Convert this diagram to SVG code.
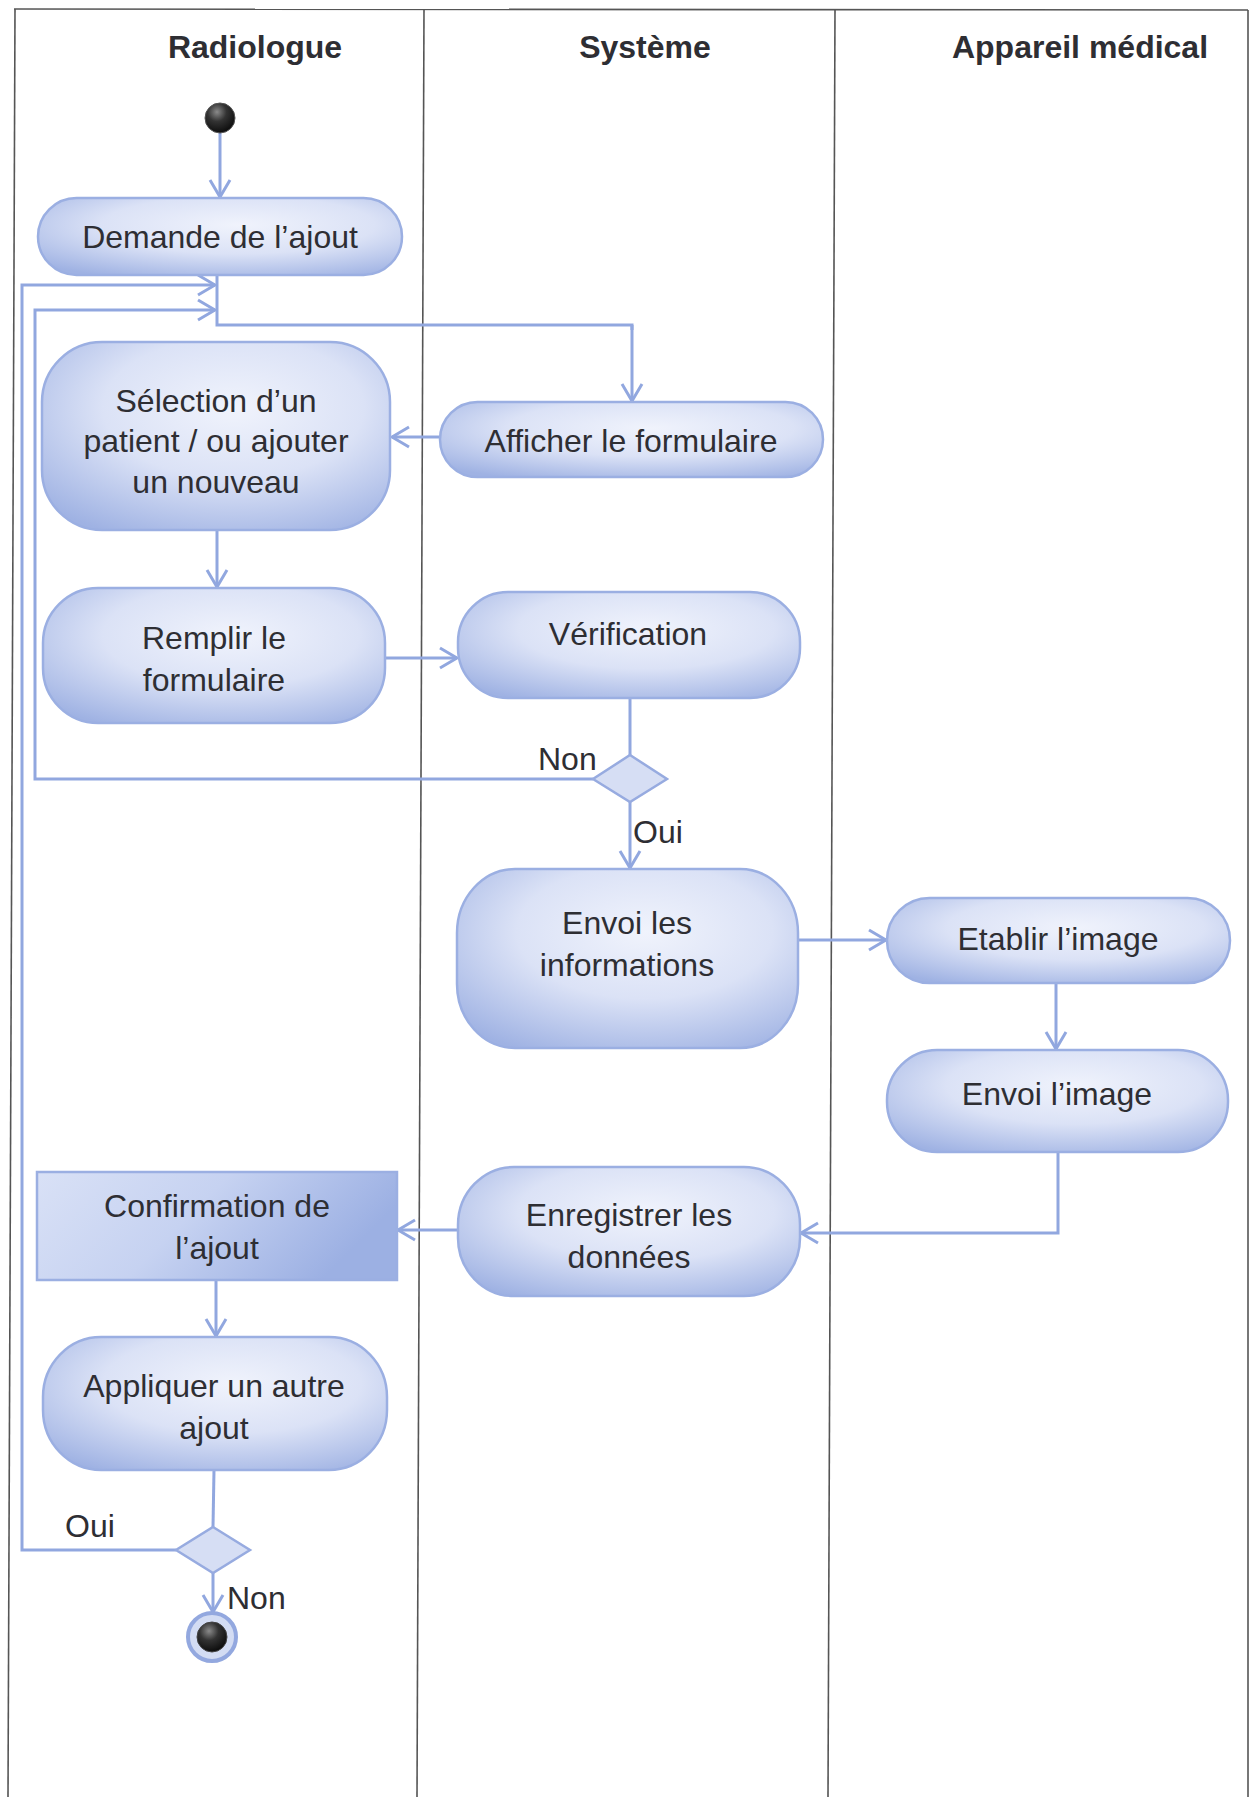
<svg xmlns="http://www.w3.org/2000/svg" width="1250" height="1797" viewBox="0 0 1250 1797">
  <style>
    .lane { fill: none; stroke: #555; stroke-width: 1.6; }
    .title { font-family: "Liberation Sans", Arial, sans-serif; font-size: 32px; font-weight: bold; fill: #2e2e33; text-anchor: middle; }
    .lbl { font-family: "Liberation Sans", Arial, sans-serif; font-size: 32px; fill: #2e2e33; text-anchor: middle; }
    .guard { font-family: "Liberation Sans", Arial, sans-serif; font-size: 32px; fill: #2e2e33; }
    .act { fill: url(#actFill); stroke: #9bafe2; stroke-width: 2.5; }
    .box { fill: url(#boxFill); stroke: #9bafe2; stroke-width: 2.5; }
    .dec { fill: #d6def4; stroke: #97abe0; stroke-width: 2.5; }
    .flow { fill: none; stroke: #91a7df; stroke-width: 3; }
    .arr { marker-end: url(#head); }
  </style>
  <defs>
    <radialGradient id="actFill" cx="0.55" cy="0.35" r="0.75">
      <stop offset="0" stop-color="#f0f3fc"/>
      <stop offset="0.5" stop-color="#dbe2f6"/>
      <stop offset="1" stop-color="#9fb2e3"/>
    </radialGradient>
    <linearGradient id="boxFill" x1="0" y1="0" x2="1" y2="0.3">
      <stop offset="0" stop-color="#d9e1f6"/>
      <stop offset="0.5" stop-color="#c6d2f1"/>
      <stop offset="1" stop-color="#9cb0e3"/>
    </linearGradient>
    <radialGradient id="ball" cx="0.4" cy="0.3" r="0.7">
      <stop offset="0" stop-color="#8a8a8a"/>
      <stop offset="0.45" stop-color="#333"/>
      <stop offset="1" stop-color="#0d0d0d"/>
    </radialGradient>
    <marker id="head" markerUnits="userSpaceOnUse" markerWidth="22" markerHeight="24" viewBox="0 0 22 24" refX="20" refY="12" orient="auto">
      <path d="M3,2 L20,12 L3,22" fill="none" stroke="#91a7df" stroke-width="3"/>
    </marker>
  </defs>

  <rect width="1250" height="1797" fill="#ffffff"/>

  <!-- swimlane frame -->
  <g id="lanes">
    <line class="lane" x1="14" y1="9" x2="1248" y2="10"/>
    <line class="lane" x1="15" y1="9" x2="8" y2="1797"/>
    <line class="lane" x1="424" y1="9" x2="417" y2="1797"/>
    <line class="lane" x1="835" y1="10" x2="828" y2="1797"/>
    <line class="lane" x1="1248" y1="10" x2="1248" y2="1797"/>
    <text class="title" x="255" y="58">Radiologue</text>
    <text class="title" x="645" y="58">Système</text>
    <text class="title" x="1080" y="58">Appareil médical</text>
  </g>

  <!-- control flows -->
  <g id="connectors">
    <line class="flow arr" x1="220" y1="133" x2="220" y2="197"/>
    <polyline class="flow" points="217,275 217,325 632,325 632,330"/>
    <line class="flow arr" x1="632" y1="325" x2="632" y2="401"/>
    <line class="flow arr" x1="440" y1="437" x2="392" y2="437"/>
    <line class="flow arr" x1="217" y1="530" x2="217" y2="587"/>
    <line class="flow arr" x1="385" y1="658" x2="457" y2="658"/>
    <line class="flow" x1="630" y1="698" x2="630" y2="755"/>
    <polyline class="flow arr" points="593,779 35,779 35,310 215,310"/>
    <line class="flow arr" x1="630" y1="802" x2="630" y2="868"/>
    <line class="flow arr" x1="798" y1="940" x2="886" y2="940"/>
    <line class="flow arr" x1="1056" y1="983" x2="1056" y2="1049"/>
    <polyline class="flow arr" points="1058,1152 1058,1233 801,1233"/>
    <line class="flow arr" x1="458" y1="1230" x2="398" y2="1230"/>
    <line class="flow arr" x1="216" y1="1280" x2="216" y2="1336"/>
    <line class="flow" x1="214" y1="1470" x2="213" y2="1527"/>
    <polyline class="flow arr" points="176,1550 22,1550 22,285 215,285"/>
    <line class="flow arr" x1="213" y1="1573" x2="213" y2="1612"/>
    <text class="guard" x="538" y="770">Non</text>
    <text class="guard" x="633" y="843">Oui</text>
    <text class="guard" x="65" y="1537">Oui</text>
    <text class="guard" x="227" y="1609">Non</text>
  </g>

  <g id="start">
    <circle cx="220" cy="118" r="15" fill="url(#ball)" stroke="#555" stroke-width="1"/>
  </g>

  <g id="demande">
    <rect class="act" x="38" y="198" width="364" height="77" rx="38.5" ry="38.5"/>
    <text class="lbl" x="220" y="248">Demande de l’ajout</text>
  </g>

  <g id="selection">
    <rect class="act" x="42" y="342" width="348" height="188" rx="60" ry="60"/>
    <text class="lbl" x="216" y="412">Sélection d’un</text>
    <text class="lbl" x="216" y="452">patient / ou ajouter</text>
    <text class="lbl" x="216" y="493">un nouveau</text>
  </g>

  <g id="afficher">
    <rect class="act" x="440" y="402" width="383" height="75" rx="37.5" ry="37.5"/>
    <text class="lbl" x="631" y="452">Afficher le formulaire</text>
  </g>

  <g id="remplir">
    <rect class="act" x="43" y="588" width="342" height="135" rx="55" ry="55"/>
    <text class="lbl" x="214" y="649">Remplir le</text>
    <text class="lbl" x="214" y="691">formulaire</text>
  </g>

  <g id="verification">
    <rect class="act" x="458" y="592" width="342" height="106" rx="50" ry="50"/>
    <text class="lbl" x="628" y="645">Vérification</text>
  </g>

  <g id="decision-verification">
    <polygon class="dec" points="630,755 667,779 630,802 593,779"/>
  </g>

  <g id="envoi-informations">
    <rect class="act" x="457" y="869" width="341" height="179" rx="58" ry="64"/>
    <text class="lbl" x="627" y="934">Envoi les</text>
    <text class="lbl" x="627" y="976">informations</text>
  </g>

  <g id="etablir-image">
    <rect class="act" x="887" y="898" width="343" height="85" rx="42.5" ry="42.5"/>
    <text class="lbl" x="1058" y="950">Etablir l’image</text>
  </g>

  <g id="envoi-image">
    <rect class="act" x="887" y="1050" width="341" height="102" rx="50" ry="50"/>
    <text class="lbl" x="1057" y="1105">Envoi l’image</text>
  </g>

  <g id="enregistrer">
    <rect class="act" x="458" y="1167" width="342" height="129" rx="56" ry="58"/>
    <text class="lbl" x="629" y="1226">Enregistrer les</text>
    <text class="lbl" x="629" y="1268">données</text>
  </g>

  <g id="confirmation">
    <rect class="box" x="37" y="1172" width="360" height="108"/>
    <text class="lbl" x="217" y="1217">Confirmation de</text>
    <text class="lbl" x="217" y="1259">l’ajout</text>
  </g>

  <g id="appliquer">
    <rect class="act" x="43" y="1337" width="344" height="133" rx="58" ry="60"/>
    <text class="lbl" x="214" y="1397">Appliquer un autre</text>
    <text class="lbl" x="214" y="1439">ajout</text>
  </g>

  <g id="decision-autre">
    <polygon class="dec" points="213,1527 250,1550 213,1573 176,1550"/>
  </g>

  <g id="end">
    <circle cx="212" cy="1637" r="24" fill="#d3dcf3" stroke="#93a8df" stroke-width="4"/>
    <circle cx="212" cy="1637" r="15" fill="url(#ball)" stroke="#444" stroke-width="1"/>
  </g>
</svg>
